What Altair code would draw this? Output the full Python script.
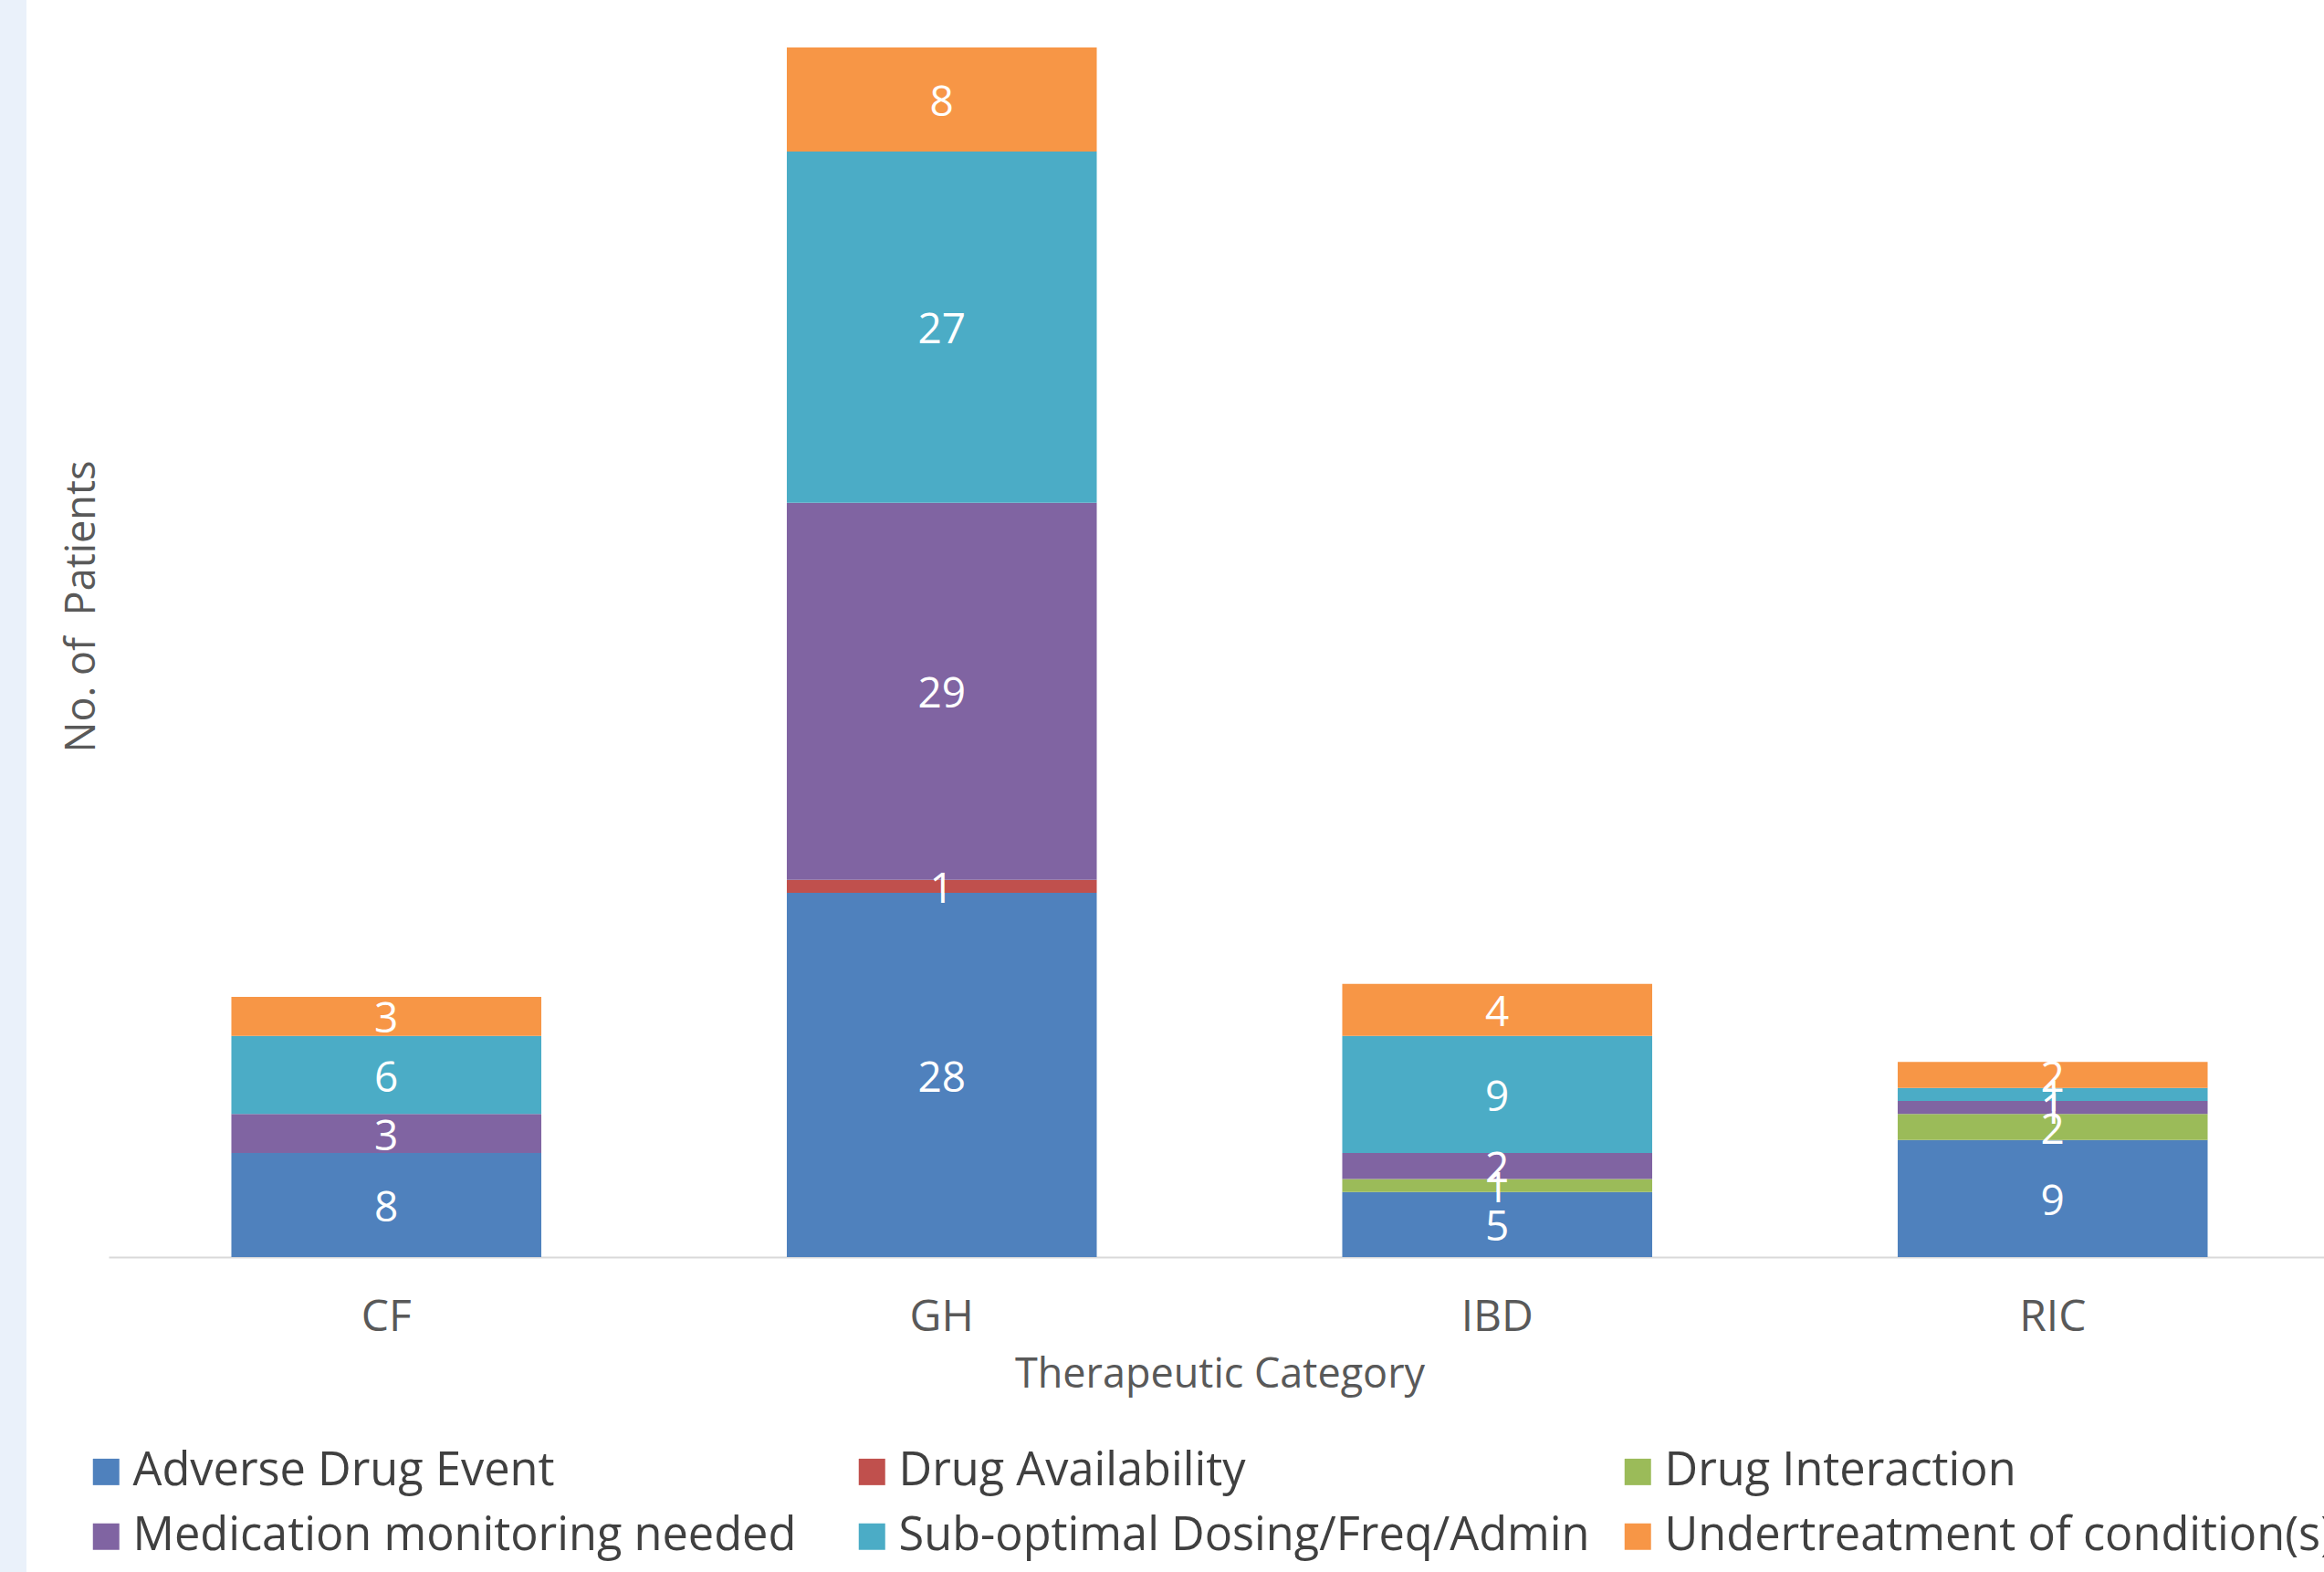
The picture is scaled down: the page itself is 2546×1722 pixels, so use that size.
import altair as alt
import pandas as pd

categories = ["CF", "GH", "IBD", "RIC"]
issue_types = [
    "Adverse Drug Event",
    "Drug Availability",
    "Drug Interaction",
    "Medication monitoring needed",
    "Sub-optimal Dosing/Freq/Admin",
    "Undertreatment of condition(s)",
]
adverse = [8, 28, 5, 9]
availability = [0, 1, 0, 0]
interaction = [0, 0, 1, 2]
monitoring = [3, 29, 2, 1]
suboptimal = [6, 27, 9, 1]
undertreatment = [3, 8, 4, 2]
colors = ["#4F81BD", "#C0504D", "#9BBB59", "#8064A2", "#4BACC6", "#F79646"]

series = [adverse, availability, interaction, monitoring, suboptimal, undertreatment]
rows = []
for k, (name, vals) in enumerate(zip(issue_types, series)):
    for cat, v in zip(categories, vals):
        rows.append({"category": cat, "issue": name, "order": k, "value": v})
df = pd.DataFrame(rows)

# legend is filled column by column: reorder so it reads row by row (3 columns)
legend_order = [0, 3, 1, 4, 2, 5]
legend_domain = [issue_types[i] for i in legend_order]
legend_range = [colors[i] for i in legend_order]

FONT = "Open Sans"

x_axis = alt.Axis(
    title="Therapeutic Category",
    labelAngle=0,
    ticks=False,
    tickSize=0,
    grid=False,
    domainColor="#D9D9D9",
    domainWidth=2,
    labelPadding=42,
    labelFontSize=48,
    labelColor="#595959",
    labelFont=FONT,
    titleFont=FONT,
    titleFontSize=45,
    titleFontWeight="normal",
    titleColor="#595959",
    titlePadding=16,
)
y_axis = alt.Axis(
    title="No. of \u00a0Patients",
    domain=False,
    ticks=False,
    labels=False,
    grid=False,
    titleFont=FONT,
    titleFontSize=45,
    titleFontWeight="normal",
    titleColor="#595959",
    titleAngle=270,
    titleX=-30,
    titleY=664,
    titleBaseline="middle",
    titleAlign="center",
)
x_scale = alt.Scale(paddingInner=0.442, paddingOuter=0.221)
y_scale = alt.Scale(domain=[0, 96.65], nice=False, zero=True)

bars = (
    alt.Chart(df)
    .transform_filter("datum.value > 0")
    .mark_bar()
    .encode(
        x=alt.X("category:N", sort=categories, scale=x_scale, axis=x_axis),
        y=alt.Y("value:Q", stack="zero", scale=y_scale, axis=y_axis),
        color=alt.Color(
            "issue:N",
            scale=alt.Scale(domain=legend_domain, range=legend_range),
            legend=alt.Legend(
                title=None,
                orient="none",
                legendX=-28,
                legendY=1587,
                columns=3,
                gridAlign="all",
                symbolType="square",
                symbolSize=841,
                symbolStrokeWidth=0,
                labelFont=FONT,
                labelFontSize=50.5,
                labelColor="#404040",
                labelOffset=4,
                labelLimit=3000,
                columnPadding=27,
                rowPadding=20,
                padding=0,
            ),
        ),
        order=alt.Order("order:Q"),
    )
)

labels = (
    alt.Chart(df)
    .transform_filter("datum.value > 0")
    .transform_stack(
        stack="value",
        groupby=["category"],
        as_=["v0", "v1"],
        sort=[alt.SortField("order", order="ascending")],
    )
    .transform_calculate(mid="(datum.v0 + datum.v1) / 2")
    .mark_text(color="white", fontSize=46, font=FONT, baseline="middle", align="center", dy=4)
    .encode(
        x=alt.X("category:N", sort=categories, scale=x_scale, axis=x_axis),
        y=alt.Y("mid:Q", scale=y_scale, axis=y_axis),
        text="value:Q",
    )
)

strip = (
    alt.Chart(pd.DataFrame({"a": [0]}))
    .mark_rect(color="#EAF1FA")
    .encode(x=alt.value(-119), x2=alt.value(-90), y=alt.value(0), y2=alt.value(1722))
)

chart = (
    alt.layer(strip, bars, labels)
    .properties(
        width=2434,
        height=1377,
        autosize=alt.AutoSizeParams(type="none"),
        padding={"left": 119, "top": 0, "right": -7, "bottom": 345},
        background="white",
        view=alt.ViewBackground(strokeWidth=0, stroke="transparent"),
    )
    .configure_view(strokeWidth=0, stroke="transparent")
    .configure_axisY(grid=False, domain=False)
    .configure_axisX(grid=False)
    .configure(font=FONT)
)

chart.save("out.html", embed_options={"renderer": "svg", "actions": False})
